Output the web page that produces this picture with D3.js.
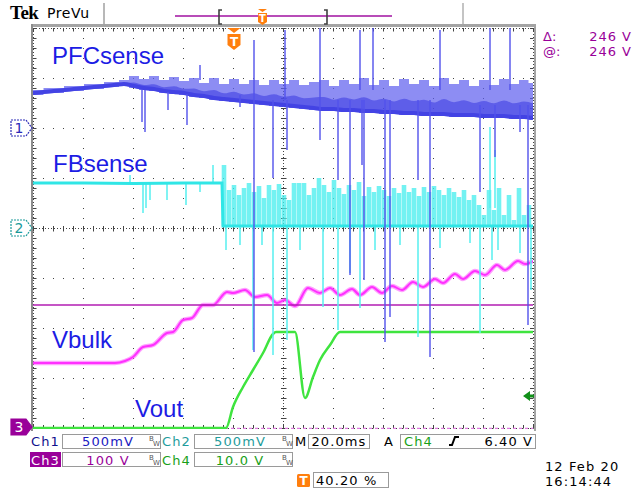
<!DOCTYPE html>
<html>
<head>
<meta charset="utf-8">
<script src="https://cdn.jsdelivr.net/npm/d3@7"></script>
<style>
  html, body { margin: 0; padding: 0; background: #fff; }
  svg { display: block; font-family: "DejaVu Sans", sans-serif; }
</style>
</head>
<body>
<div id="scope"></div>
<script>
// ---- data (time in ms from trigger) ----
const ch1Time = [-80.4, -72, -64, -56, -48, -44, -40, -36, -32, -28, -24, -20, -16, -12, -8, -4, 0, 4, 8, 12,
  16, 20, 24, 28, 32, 36, 40, 44, 48, 52, 56, 60, 64, 68, 72, 76, 80, 84, 88, 92, 96, 100, 104, 108, 112, 116, 119.6];
// PFCsense band, mV: bottom edge and top edge of the noise
const ch1Low = [330, 350, 370, 390, 410, 420, 400, 380, 370, 350, 340, 330, 310, 300, 280, 270, 260, 250, 240, 230,
  220, 210, 200, 190, 180, 170, 170, 160, 160, 150, 150, 140, 140, 130, 130, 120, 120, 120, 110, 110, 110, 100, 100, 100, 90, 90, 80];
const ch1High = [380, 400, 420, 440, 460, 480, 520, 490, 520, 480, 510, 470, 500, 450, 500, 440, 490, 440, 480, 430,
  480, 440, 480, 430, 460, 480, 420, 480, 440, 500, 430, 480, 420, 490, 440, 480, 420, 500, 440, 480, 420, 480, 430, 490, 440, 480, 450];
// glitches on PFCsense: [t, top mV, bottom mV]
const ch1Spikes = [[-36.8, 380, 60], [-35.6, 380, -40], [-26.4, 360, 180], [-18.8, 340, 30], [-13.6, 630, 480],
  [2.4, 330, 210], [8.0, 880, -2240], [15.6, 280, -500], [20.4, 980, 280], [21.2, 280, -220], [34.4, 1000, -120],
  [41.6, 280, -520], [46.4, 280, -1470], [51.2, 280, -370], [52.0, 280, -1520], [50.4, 980, 380], [55.6, 1000, 380],
  [60.4, 280, -2140], [62.4, 280, -1890], [73.6, 280, -520], [78.4, 280, -2290], [82.4, 980, 380], [98.4, 230, -640],
  [102.4, 1000, 380], [104.4, 230, -290], [110.4, 1000, 380], [114.4, 230, -40], [117.6, 230, -1970]];

// FBsense, mV
const ch2Trace = [[-80.4, 450], [-60, 450], [-40, 445], [-20, 450], [-4.8, 450], [-4.4, 20], [119.6, 20]];
const ch2Comb = [[-4, 630], [-2, 380], [0, 430], [2, 330], [4, 400], [6, 450], [8, 360], [10, 420], [12, 300], [14, 430],
  [16, 380], [18, 440], [20, 330], [22, 280], [24, 450], [26, 450], [28, 450], [30, 330], [32, 400], [34, 500],
  [36, 430], [38, 360], [40, 480], [42, 400], [44, 340], [46, 430], [48, 380], [50, 460], [52, 320], [54, 410],
  [56, 360], [58, 420], [60, 380], [62, 320], [64, 400], [66, 350], [68, 430], [70, 360], [72, 400], [74, 320],
  [76, 410], [78, 360], [80, 420], [82, 380], [84, 330], [86, 400], [88, 360], [90, 310], [92, 380], [94, 280],
  [96, 330], [98, 230], [100, 130], [102, 380], [104, 180], [106, 400], [108, 130], [110, 330], [112, 80], [114, 400],
  [116, 130], [118, 230]];
const ch2Spikes = [[-41.6, 530, 450], [-36.4, 450, 150], [-35.2, 450, 200], [-33.6, 450, 280], [-26.8, 450, 280],
  [-19.2, 450, 230], [-13.6, 450, 360], [-8.4, 630, 450], [-3.2, 20, -220], [2.4, 20, -170], [7.6, 20, -1220],
  [11.2, 20, -170], [15.6, 20, -1270], [21.2, 20, -1120], [26.4, 20, -220], [35.6, 20, -790], [41.6, 20, -1020],
  [46.4, 20, -450], [50.4, 20, -800], [56.4, 20, -220], [66.4, 20, -170], [73.6, 20, -1090], [82.4, 20, -200],
  [94.4, 20, -150], [98.4, 20, -1050], [102.4, 1010, 200], [103.2, 20, -320], [104.4, 780, 200], [105.6, 20, -220],
  [114.4, 20, -250], [118.8, 20, -620]];

// Vbulk, V
const ch3Trace = [[-80.4, 130], [-47.6, 130], [-43.6, 134], [-40.4, 142], [-36.4, 162], [-32.4, 166], [-26.8, 190],
  [-24.4, 192], [-20.4, 216], [-16.8, 220], [-12.4, 246], [-8.4, 246], [-2.8, 272], [-0.4, 270], [4.4, 276],
  [8.4, 262], [13.2, 266], [17.2, 250], [20.4, 256], [24.4, 244], [29.6, 280], [34.4, 270], [38.4, 280], [42.4, 266],
  [47.2, 278], [50.4, 266], [55.2, 282], [59.2, 270], [63.2, 284], [67.2, 276], [71.6, 292], [75.6, 282], [80.4, 298],
  [83.6, 290], [88.4, 308], [91.6, 298], [96.4, 314], [100.4, 306], [105.2, 326], [108.4, 316], [113.6, 334],
  [116.4, 328], [119.6, 334]];
const ch3Cursor = 246;

// Vout, V
const ch4Trace = [[-80.4, 0], [-3.2, 0], [-0.4, 4.2], [3.6, 8.2], [7.6, 11.6], [11.6, 15.0], [15.6, 18.8], [16.8, 19.2],
  [24.4, 19.2], [28.4, 6.0], [31.6, 10.2], [34.4, 13.6], [38.4, 16.6], [42.4, 19.2], [119.6, 19.2]];
const trigLevel = 6.4;

const labels = ["PFCsense", "FBsense", "Vbulk", "Vout"];

// ---- scales ----
const W = 633, H = 490;
const x = d3.scaleLinear().domain([-80.4, 119.6]).range([33, 533]);
const xDiv = d3.scaleLinear().domain([0, 10]).range([33, 533]);
const yDiv = d3.scaleLinear().domain([-4, 4]).range([428, 28]);
const ch1 = { perDiv: 500, offset: 2 }, ch2 = { perDiv: 500, offset: 0 },
      ch3 = { perDiv: 100, offset: -4 }, ch4 = { perDiv: 10, offset: -4 };
const yOf = (ch, v) => yDiv(v / ch.perDiv + ch.offset);

const svg = d3.select("#scope").append("svg").attr("width", W).attr("height", H);
svg.append("rect").attr("width", W).attr("height", H).attr("fill", "#fff");

svg.append("clipPath").attr("id", "plot")
  .append("rect").attr("x", 33).attr("y", 28).attr("width", 500).attr("height", 401);

// ---- graticule ----
const grid = svg.append("g").attr("stroke", "#444").attr("stroke-width", 1);
d3.range(1, 10).filter(k => k !== 5).forEach(k => {
  grid.append("line").attr("x1", xDiv(k) + 0.5).attr("x2", xDiv(k) + 0.5)
    .attr("y1", 28).attr("y2", 429).attr("stroke-dasharray", "1,9");
});
d3.range(-3, 4).filter(k => k !== 0).forEach(k => {
  grid.append("line").attr("y1", yDiv(k) + 0.5).attr("y2", yDiv(k) + 0.5)
    .attr("x1", 33).attr("x2", 534).attr("stroke-dasharray", "1,9");
});
// center cross and edges with minor ticks
[283, 33, 533].forEach(cx => {
  grid.append("line").attr("x1", cx + 0.5).attr("x2", cx + 0.5).attr("y1", 28).attr("y2", 429)
    .attr("stroke-dasharray", "1,2");
  d3.range(28, 430, 10).forEach(yy => {
    const dx = cx === 33 ? [0, 3] : cx === 533 ? [-3, 0] : [-2, 3];
    grid.append("line").attr("x1", cx + dx[0]).attr("x2", cx + dx[1] + 0.5)
      .attr("y1", yy + 0.5).attr("y2", yy + 0.5);
  });
});
[228, 28, 428].forEach(cy => {
  grid.append("line").attr("y1", cy + 0.5).attr("y2", cy + 0.5).attr("x1", 33).attr("x2", 534)
    .attr("stroke-dasharray", "1,2");
  d3.range(33, 534, 10).forEach(xx => {
    const dy = cy === 28 ? [0, 3] : cy === 428 ? [-3, 0] : [-2, 3];
    grid.append("line").attr("y1", cy + dy[0]).attr("y2", cy + dy[1] + 0.5)
      .attr("x1", xx + 0.5).attr("x2", xx + 0.5);
  });
});

// frame
svg.append("rect").attr("x", 31).attr("y", 24).attr("width", 505).attr("height", 3).attr("fill", "#a4a4a4");
svg.append("rect").attr("x", 31).attr("y", 24).attr("width", 2).attr("height", 407).attr("fill", "#8c8c8c");
svg.append("rect").attr("x", 534).attr("y", 24).attr("width", 2).attr("height", 407).attr("fill", "#a4a4a4");

// ---- traces ----
const plot = svg.append("g").attr("clip-path", "url(#plot)");

// ch3 ground dashes along the bottom
plot.append("line").attr("x1", 33).attr("x2", 533).attr("y1", 428.5).attr("y2", 428.5)
  .attr("stroke", "#e07ae0").attr("stroke-width", 1.5).attr("stroke-dasharray", "3,3");

// Vbulk
const line3 = d3.line().x(d => x(d[0])).y(d => yOf(ch3, d[1])).curve(d3.curveMonotoneX);
plot.append("path").datum(ch3Trace).attr("d", line3).attr("fill", "none")
  .attr("stroke", "#ff55ff").attr("stroke-width", 4.5).attr("opacity", 0.55);
plot.append("path").datum(ch3Trace).attr("d", line3).attr("fill", "none")
  .attr("stroke", "#ff30ff").attr("stroke-width", 2);
plot.append("line").attr("x1", 33).attr("x2", 533)
  .attr("y1", yOf(ch3, ch3Cursor)).attr("y2", yOf(ch3, ch3Cursor))
  .attr("stroke", "#b21cb2").attr("stroke-width", 1.5);

// Vout
const line4 = d3.line().x(d => x(d[0])).y(d => yOf(ch4, d[1])).curve(d3.curveMonotoneX);
plot.append("path").datum(ch4Trace).attr("d", line4).attr("fill", "none")
  .attr("stroke", "#3fe43f").attr("stroke-width", 2.5);

// FBsense
plot.append("g").selectAll("line").data(ch2Comb).join("line")
  .attr("x1", d => x(d[0])).attr("x2", d => x(d[0]))
  .attr("y1", yOf(ch2, 20)).attr("y2", d => yOf(ch2, d[1]))
  .attr("stroke", "#45eeee").attr("stroke-width", 4.6).attr("opacity", 0.75);
plot.append("g").selectAll("line").data(ch2Spikes).join("line")
  .attr("x1", d => x(d[0])).attr("x2", d => x(d[0]))
  .attr("y1", d => yOf(ch2, d[1])).attr("y2", d => yOf(ch2, d[2]))
  .attr("stroke", "#5af0f0").attr("stroke-width", 1.8).attr("opacity", 0.85);
plot.append("path").datum(ch2Trace)
  .attr("d", d3.line().x(d => x(d[0])).y(d => yOf(ch2, d[1])))
  .attr("fill", "none").attr("stroke", "#30e6e6").attr("stroke-width", 3);

// PFCsense
const band = ch1Time.map((t, i) => ({ t, lo: ch1Low[i], hi: ch1High[i] }));
plot.append("path").datum(band)
  .attr("d", d3.area().x(d => x(d.t)).y0(d => yOf(ch1, d.lo)).y1(d => yOf(ch1, d.hi)).curve(d3.curveStep))
  .attr("fill", "#5c5cee").attr("opacity", 0.7);
plot.append("path").datum(band)
  .attr("d", d3.area().x(d => x(d.t)).y0(d => yOf(ch1, d.lo))
    .y1(d => yOf(ch1, d.lo + (d.hi - d.lo) * 0.45)).curve(d3.curveMonotoneX))
  .attr("fill", "#4040e2").attr("opacity", 0.6);
plot.append("path").datum(band)
  .attr("d", d3.line().x(d => x(d.t)).y(d => yOf(ch1, d.lo + 20)).curve(d3.curveMonotoneX))
  .attr("fill", "none").attr("stroke", "#4343e4").attr("stroke-width", 4);
plot.append("g").selectAll("line").data(ch1Spikes).join("line")
  .attr("x1", d => x(d[0])).attr("x2", d => x(d[0]))
  .attr("y1", d => yOf(ch1, d[1])).attr("y2", d => yOf(ch1, d[2]))
  .attr("stroke", "#5252ec").attr("stroke-width", 2).attr("opacity", 0.7);

// trace names
const nameY = [[52, 64], [53, 172], [52, 348], [135, 417]];
svg.append("g").selectAll("text").data(labels).join("text")
  .attr("x", (d, i) => nameY[i][0]).attr("y", (d, i) => nameY[i][1])
  .attr("font-family", "'Liberation Sans', Arial, sans-serif").attr("font-size", 24)
  .attr("fill", "#1c1ce4").text(d => d);

// trigger level arrow (ch4)
const ty = yOf(ch4, trigLevel);
svg.append("path")
  .attr("d", `M523,${ty} L530,${ty - 5} V${ty - 1.5} H534 V${ty + 1.5} H530 V${ty + 5} Z`)
  .attr("fill", "#12901a");

// trigger position marker
const tx = x(0);
svg.append("path").attr("d", `M${tx - 6.5},28 H${tx + 6.5} L${tx},33 Z`).attr("fill", "#ff7f0e");
svg.append("path").attr("d", `M${tx - 6.5},34 H${tx + 6.5} V45 L${tx},50 L${tx - 6.5},45 Z`).attr("fill", "#ff7f0e");
svg.append("text").attr("x", tx).attr("y", 46).attr("text-anchor", "middle").attr("font-size", 12)
  .attr("font-weight", "bold").attr("fill", "#fff").text("T");

// channel ground markers
function marker(cy, num, stroke, fill, textFill) {
  const g = svg.append("g");
  g.append("path").attr("d", `M11,${cy - 8} H26 L32,${cy} L26,${cy + 8} H11 Z`)
    .attr("fill", fill).attr("stroke", stroke).attr("stroke-width", 1.2)
    .attr("stroke-dasharray", fill === "#fff" ? "2,1" : null);
  g.append("text").attr("x", 19).attr("y", cy + 5).attr("text-anchor", "middle")
    .attr("font-size", 14).attr("fill", textFill).text(num);
}
marker(yDiv(2), "1", "#2a2ab8", "#fff", "#2a2ab8");
marker(yDiv(0), "2", "#1a9a9a", "#fff", "#1a9a9a");
marker(427, "3", "#990099", "#990099", "#fff");

// ---- top bar ----
svg.append("text").attr("x", 10).attr("y", 19).attr("font-family", "'Liberation Serif', serif")
  .attr("font-weight", "bold").attr("font-size", 19).attr("letter-spacing", -0.5).text("Tek");
svg.append("text").attr("x", 47).attr("y", 18).attr("font-size", 14).attr("letter-spacing", 0.6).text("PreVu");
svg.append("rect").attr("x", 103).attr("y", 3).attr("width", 2).attr("height", 21).attr("fill", "#b8b8b8");
svg.append("rect").attr("x", 462).attr("y", 3).attr("width", 2).attr("height", 21).attr("fill", "#c4c4c4");
svg.append("line").attr("x1", 175).attr("x2", 392).attr("y1", 16).attr("y2", 16)
  .attr("stroke", "#a010a0").attr("stroke-width", 1.5);
svg.append("path").attr("d", "M222,10 H219 V24 H222 M324,10 H327 V24 H324")
  .attr("fill", "none").attr("stroke", "#404040").attr("stroke-width", 1.6);
svg.append("path").attr("d", "M258,9 H267 L262.5,12 Z").attr("fill", "#ff7f0e");
svg.append("path").attr("d", "M258,13 H267 V22 L262.5,25 L258,22 Z").attr("fill", "#ff7f0e");
svg.append("text").attr("x", 262.5).attr("y", 22).attr("text-anchor", "middle").attr("font-size", 10)
  .attr("font-weight", "bold").attr("fill", "#fff").text("T");

// cursor readout
const cur = svg.append("g").attr("font-size", 13).attr("fill", "#990099");
cur.append("text").attr("x", 543).attr("y", 41).text("Δ:");
cur.append("text").attr("x", 632).attr("y", 41).attr("text-anchor", "end").attr("letter-spacing", 1).text("246 V");
cur.append("text").attr("x", 543).attr("y", 56).text("@:");
cur.append("text").attr("x", 632).attr("y", 56).attr("text-anchor", "end").attr("letter-spacing", 1).text("246 V");

// ---- bottom readout ----
const bot = svg.append("g").attr("font-size", 13).attr("letter-spacing", 1.1);
function box(x0, y0, w, h) {
  bot.append("rect").attr("x", x0 + 0.5).attr("y", y0 + 0.5).attr("width", w).attr("height", h)
    .attr("fill", "#fff").attr("stroke", "#9a9a9a");
}
function txt(x0, y0, s, fill, anchor) {
  bot.append("text").attr("x", x0).attr("y", y0).attr("fill", fill || "#000")
    .attr("text-anchor", anchor || "start").text(s);
}
function bw(x0, y0) {
  bot.append("text").attr("x", x0).attr("y", y0 - 5).attr("font-size", 7).attr("letter-spacing", 0).attr("fill", "#555").text("B");
  bot.append("text").attr("x", x0 + 4).attr("y", y0).attr("font-size", 7).attr("letter-spacing", 0).attr("fill", "#555").text("W");
}
box(62, 434, 98, 14); box(194, 434, 98, 14); box(308, 434, 61, 14); box(400, 434, 135, 14);
box(62, 452, 98, 14); box(194, 452, 98, 14); box(313, 472, 75, 15);
txt(31, 446, "Ch1", "#10108c");
txt(108, 446, "500mV", "#1a1abf", "middle");
bw(149, 446);
txt(162, 446, "Ch2", "#1f9c9c");
txt(240, 446, "500mV", "#1f9c9c", "middle");
bw(282, 446);
txt(295, 446, "M", "#000");
txt(339, 446, "20.0ms", "#000", "middle");
txt(384, 446, "A", "#000");
txt(404, 446, "Ch4", "#18a018");
bot.append("path").attr("d", "M449,445 H452 L455,437 H459").attr("fill", "none").attr("stroke", "#000").attr("stroke-width", 2);
txt(533, 446, "6.40 V", "#000", "end");

bot.append("rect").attr("x", 30).attr("y", 452).attr("width", 31).attr("height", 15).attr("fill", "#990099");
txt(31, 465, "Ch3", "#fff");
txt(108, 465, "100 V", "#990099", "middle");
bw(149, 465);
txt(162, 465, "Ch4", "#18a018");
txt(240, 465, "10.0 V", "#18a018", "middle");
bw(282, 465);

bot.append("rect").attr("x", 297).attr("y", 474).attr("width", 13).attr("height", 13).attr("rx", 1.5).attr("fill", "#ff7f0e");
bot.append("text").attr("x", 303.5).attr("y", 485).attr("text-anchor", "middle").attr("font-size", 12)
  .attr("font-weight", "bold").attr("letter-spacing", 0).attr("fill", "#fff").text("T");
txt(316, 485, "40.20 %", "#000");

txt(545, 471, "12 Feb  20", "#000");
txt(545, 486, "16:14:44", "#000");
</script>
</body>
</html>
